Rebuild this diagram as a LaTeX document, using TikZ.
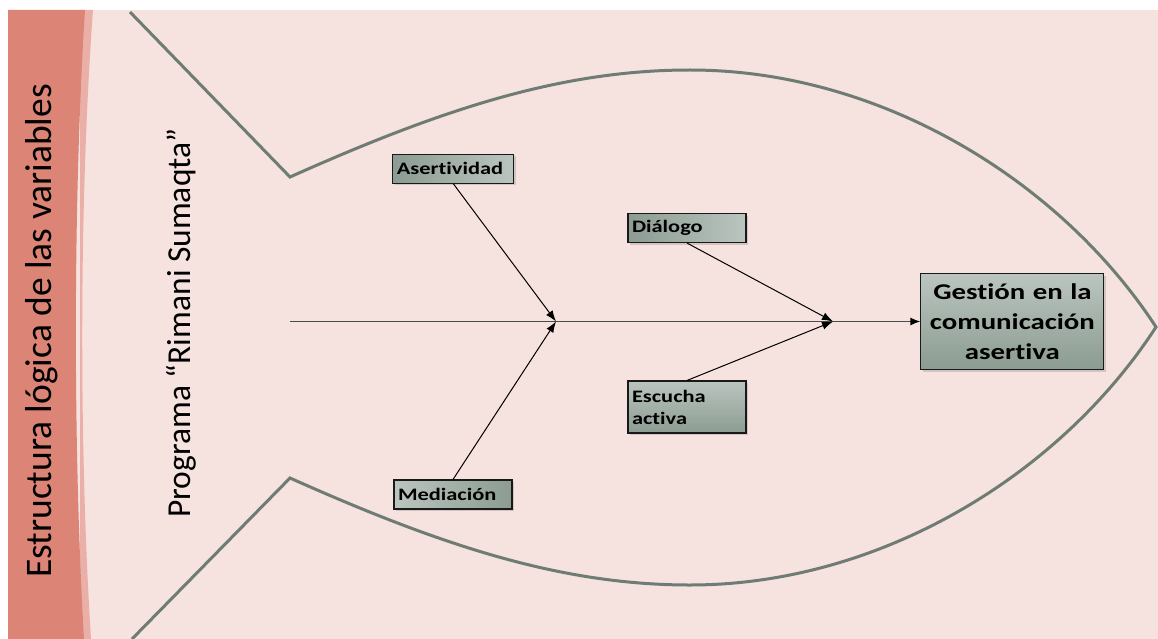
\documentclass[tikz,border=0pt]{standalone}
\usepackage{fontspec}
\setmainfont{Carlito}[Ligatures=NoCommon]
\newfontfamily\boxfont{Carlito}[FakeStretch=1.28,Ligatures=NoCommon]
\usetikzlibrary{arrows.meta,shadows}
\definecolor{bgpink}{RGB}{246,226,223}
\definecolor{bandred}{RGB}{220,132,118}
\definecolor{bandlight}{RGB}{234,176,168}
\definecolor{fishline}{RGB}{110,124,115}
\definecolor{boxdark}{RGB}{140,156,146}
\definecolor{boxlight}{RGB}{186,197,191}
\begin{document}
\begin{tikzpicture}[x=1pt,y=-1pt,semithick,>={Latex[length=11pt,width=8pt]}]
\tikzstyle{cause}=[draw=black!90,line width=1.1pt,inner xsep=4pt,inner ysep=0pt,text width=110pt,align=left,minimum height=29pt,font=\boxfont\bfseries\fontsize{17.5}{22}\selectfont,drop shadow={shadow xshift=2pt,shadow yshift=-2pt,opacity=0.3}]
\tikzstyle{effect}=[cause,text width=175pt,align=center,minimum height=96pt,font=\boxfont\bfseries\fontsize{22.5}{30}\selectfont]
\tikzstyle{side}=[rotate=90,inner sep=0pt]
\tikzstyle{bone}=[->,black,line width=1pt]
\useasboundingbox (0,0) rectangle (1158,639);
\fill[white] (0,0) rectangle (1158,639);
\fill[bgpink] (8,10) rectangle (1158,639);
\fill[bandlight] (80,10) -- (93,10) .. controls (79,200) and (79,450) .. (91,639) -- (80,639) -- cycle;
\fill[bandred] (8,10) -- (85,10) .. controls (73,200) and (73,450) .. (84,639) -- (8,639) -- cycle;
% fish outline
\draw[fishline,line width=3pt] (130,12) -- (290,177) .. controls (440,110) and (560,70) .. (690,70)
  .. controls (880,70) and (1060,180) .. (1156,327) .. controls (1060,475) and (880,585) .. (690,585)
  .. controls (560,585) and (440,545) .. (290,478) -- (132,639);
\node[side,font=\fontsize{37.5}{40}\selectfont] (estr) at (42,331) {Estructura lógica de las variables};
\node[side,font=\fontsize{33.5}{38}\selectfont] (prog) at (181,323) {Programa “Rimani Sumaqta”};
\node[cause,left color=boxdark,right color=boxlight,text width=113pt] (aser) at (453.4,168.8) {Asertividad};
\node[cause,left color=boxdark,right color=boxlight] (dial) at (687,228) {Diálogo};
\node[cause,top color=boxlight,bottom color=boxdark,minimum height=52pt] (escu) at (687,407) {Escucha\\activa};
\node[cause,left color=boxlight,right color=boxdark] (medi) at (453,494.5) {Mediación};
\node[effect,top color=boxlight,bottom color=boxdark] (gest) at (1012.4,321.5) {Gestión en la\\comunicación\\asertiva};
\coordinate (tail) at (290,321.5);
\coordinate (j1) at (556,321.5);
\coordinate (j2) at (833,321.5);
\draw[-{Latex[length=10pt,width=8pt,color=black]},draw=black!70,line width=1.3pt] (tail) -- (gest.west);
\path[bone] (aser.south) edge (j1);
\path[bone] (medi.north) edge (j1);
\path[bone] (dial.south) edge (j2);
\path[bone] (escu.north) edge (j2);
\end{tikzpicture}
\end{document}
